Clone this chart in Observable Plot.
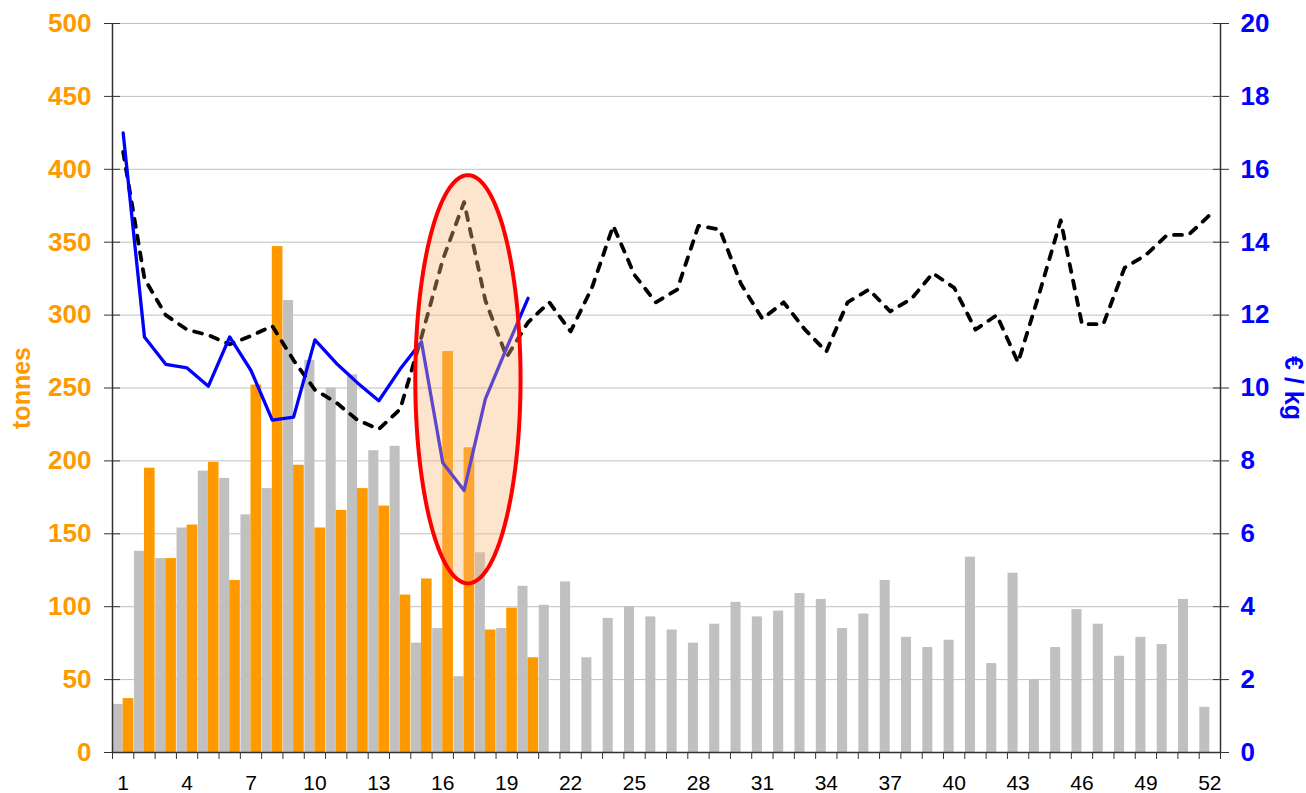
<!DOCTYPE html>
<html>
<head>
<meta charset="utf-8">
<script src="https://cdn.jsdelivr.net/npm/d3@7"></script>
<script src="https://cdn.jsdelivr.net/npm/@observablehq/plot@0.6"></script>
<style>
  html, body { margin: 0; padding: 0; background: #fff; }
</style>
</head>
<body>
<div id="chart"></div>
<script>
// ---- Data ----
const weeks = [1,2,3,4,5,6,7,8,9,10,11,12,13,14,15,16,17,18,19,20,21,22,23,24,25,26,
               27,28,29,30,31,32,33,34,35,36,37,38,39,40,41,42,43,44,45,46,47,48,49,50,51,52];

// previous year volumes (grey bars), tonnes
const prevTonnes = [33,138,133,154,193,188,163,181,310,269,250,259,207,210,75,85,52,137,85,114,
                    101,117,65,92,100,93,84,75,88,103,93,97,109,105,85,95,118,79,72,77,
                    134,61,123,50,72,98,88,66,79,74,105,31];

// current year volumes (orange bars), tonnes, weeks 1-20
const curTonnes = [37,195,133,156,199,118,252,347,197,154,166,181,169,108,119,275,209,84,99,65];

// previous year price (black dashed line), €/kg
const prevPrice = [16.48,13.0,12.0,11.6,11.45,11.2,11.43,11.7,10.76,9.95,9.6,9.12,8.87,9.42,11.4,13.52,15.1,12.4,10.85,11.8,
                   12.35,11.55,12.75,14.45,13.1,12.35,12.7,14.45,14.35,12.85,11.9,12.35,11.6,11.0,12.35,12.7,12.1,12.45,13.15,12.75,
                   11.6,12.0,10.7,12.6,14.6,11.75,11.75,13.3,13.65,14.2,14.2,14.75];

// current year price (blue line), €/kg, weeks 1-20
const curPrice = [17.0,11.4,10.65,10.55,10.05,11.4,10.48,9.12,9.2,11.32,10.68,10.14,9.65,10.52,11.27,7.95,7.19,9.7,11.1,12.46];

// axis ticks
const tonneTicks = [0,50,100,150,200,250,300,350,400,450,500];
const priceMax = 20;
const tonneMax = 500;
const xLabelWeeks = [1,4,7,10,13,16,19,22,25,28,31,34,37,40,43,46,49,52];

// highlighted zone (ellipse annotation): centre week / tonnes and radii
const highlightCenterWeek = 17.18;
const highlightCenterTonnes = 256;
const highlightRadiusWeeks = 2.47;
const highlightRadiusTonnes = 140;

// ---- derived tables ----
const k = tonneMax / priceMax; // price -> tonnes-axis factor
const prevRows = weeks.map((w, i) => ({week: w, tonnes: prevTonnes[i], price: prevPrice[i]}));
const curRows = curTonnes.map((t, i) => ({week: weeks[i], tonnes: t, price: curPrice[i]}));
const bandEdges = weeks.map(w => w - 0.5).concat([weeks[weeks.length - 1] + 0.5]);
const ellipsePts = d3.range(0, 360, 2).map(a => {
  const r = a * Math.PI / 180;
  return {x: highlightCenterWeek + highlightRadiusWeeks * Math.cos(r),
          y: highlightCenterTonnes + highlightRadiusTonnes * Math.sin(r)};
});

const chart = Plot.plot({
  width: 1306,
  height: 793,
  marginLeft: 112,
  marginRight: 86,
  marginTop: 23,
  marginBottom: 41,
  x: {domain: [0.5, 52.5], label: null},
  y: {domain: [0, tonneMax], label: null},
  style: {fontFamily: "'Liberation Sans', Arial, sans-serif", background: "#fff", overflow: "visible"},
  marks: [
    Plot.gridY(tonneTicks, {stroke: "#c0c0c0", strokeOpacity: 1, strokeWidth: 1}),
    Plot.rectY(prevRows, {x1: d => d.week - 0.5, x2: d => d.week, y: "tonnes", fill: "#c0c0c0", insetLeft: 0.6}),
    Plot.rectY(curRows, {x1: "week", x2: d => d.week + 0.5, y: "tonnes", fill: "#ff9900"}),
    Plot.line(prevRows, {x: "week", y: d => d.price * k, stroke: "#000", strokeWidth: 3.8, strokeDasharray: "8,9"}),
    Plot.line(curRows, {x: "week", y: d => d.price * k, stroke: "#0000ff", strokeWidth: 3.3}),
    Plot.line(ellipsePts, {x: "x", y: "y", curve: "linear-closed", fill: "#f9b97a", fillOpacity: 0.38, stroke: "#ff0000", strokeWidth: 4}),
    Plot.ruleX([0.5, 52.5], {stroke: "#333", strokeWidth: 1.5}),
    Plot.ruleY([0], {stroke: "#333", strokeWidth: 1.5}),
    Plot.axisY(tonneTicks, {anchor: "left", tickSize: 8, tickPadding: 13, fill: "#ff9900", stroke: "#333", fontSize: 26, fontWeight: "bold"}),
    Plot.axisY(tonneTicks, {anchor: "left", tickSize: -8, tickFormat: () => "", stroke: "#333"}),
    Plot.axisY(tonneTicks, {anchor: "right", tickSize: 8, tickPadding: 12, tickFormat: d => d / k, fill: "#0000ff", stroke: "#333", fontSize: 26, fontWeight: "bold"}),
    Plot.axisY(tonneTicks, {anchor: "right", tickSize: -8, tickFormat: () => "", stroke: "#333"}),
    Plot.axisX(bandEdges, {tickSize: 7, tickFormat: () => "", stroke: "#333"}),
    Plot.axisX(xLabelWeeks, {tickSize: 0, tickPadding: 23, fontSize: 21, fill: "#000"}),
    Plot.text(["tonnes"], {text: d => d, frameAnchor: "left", textAnchor: "middle", dx: -91, rotate: -90, fill: "#ff9900", fontSize: 25, fontWeight: "bold"}),
    Plot.text(["€ / kg"], {text: d => d, frameAnchor: "right", textAnchor: "middle", dx: 72, rotate: 90, fill: "#0000ff", fontSize: 25, fontWeight: "bold"})
  ]
});
document.getElementById("chart").appendChild(chart);
</script>
</body>
</html>
